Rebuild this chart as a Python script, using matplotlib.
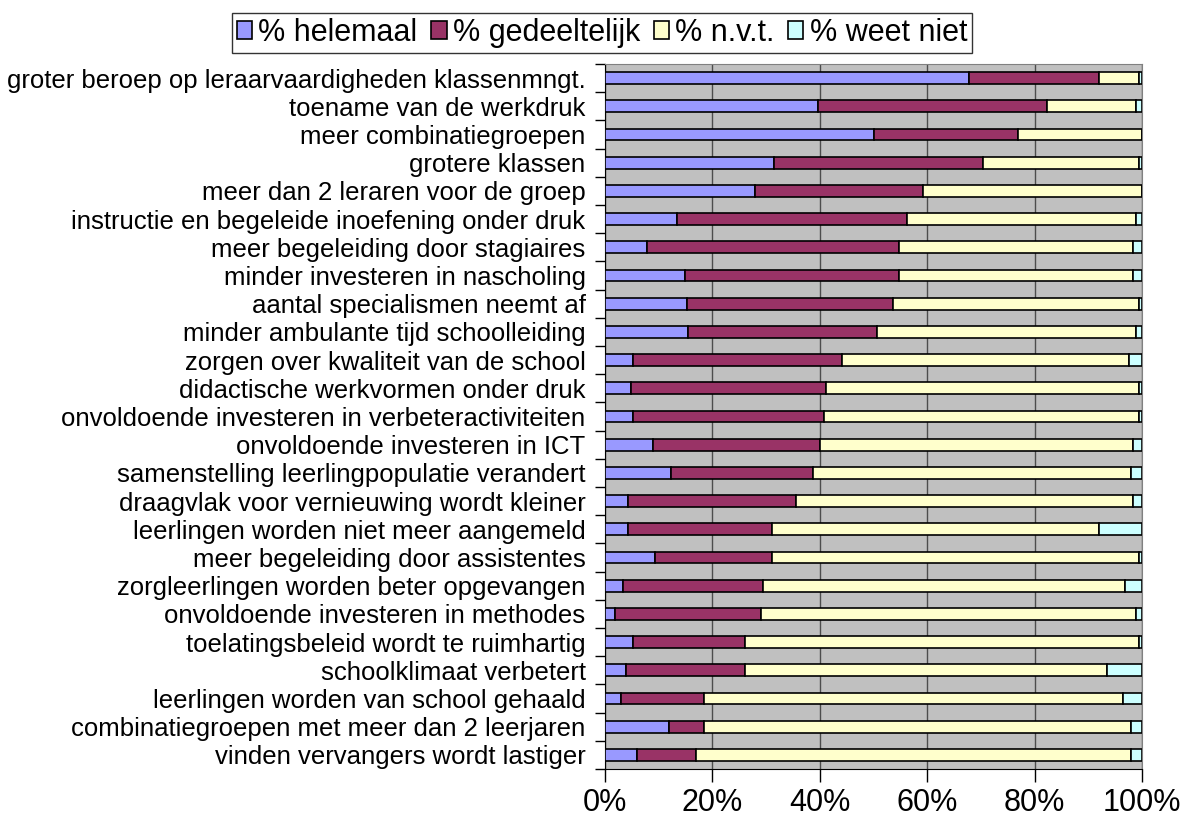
import matplotlib
matplotlib.use("Agg")
import matplotlib.pyplot as plt
from matplotlib.ticker import FixedLocator, PercentFormatter
import numpy as np

categories = [
    "groter beroep op leraarvaardigheden klassenmngt.",
    "toename van de werkdruk",
    "meer combinatiegroepen",
    "grotere klassen",
    "meer dan 2 leraren voor de groep",
    "instructie en begeleide inoefening onder druk",
    "meer begeleiding door stagiaires",
    "minder investeren in nascholing",
    "aantal specialismen neemt af",
    "minder ambulante tijd schoolleiding",
    "zorgen over kwaliteit van de school",
    "didactische werkvormen onder druk",
    "onvoldoende investeren in verbeteractiviteiten",
    "onvoldoende investeren in ICT",
    "samenstelling leerlingpopulatie verandert",
    "draagvlak voor vernieuwing wordt kleiner",
    "leerlingen worden niet meer aangemeld",
    "meer begeleiding door assistentes",
    "zorgleerlingen worden beter opgevangen",
    "onvoldoende investeren in methodes",
    "toelatingsbeleid wordt te ruimhartig",
    "schoolklimaat verbetert",
    "leerlingen worden van school gehaald",
    "combinatiegroepen met meer dan 2 leerjaren",
    "vinden vervangers wordt lastiger",
]

helemaal = [67.8, 39.7, 50.1, 31.5, 28.0, 13.5, 7.9, 14.9, 15.3, 15.4, 5.3, 4.8, 5.3,
            8.9, 12.3, 4.3, 4.3, 9.4, 3.3, 1.8, 5.3, 3.9, 2.9, 11.9, 5.9]
gedeeltelijk = [24.2, 42.7, 26.8, 38.8, 31.2, 42.7, 46.8, 39.8, 38.4, 35.3, 38.8, 36.3, 35.4,
                31.2, 26.4, 31.2, 26.8, 21.7, 26.2, 27.3, 20.7, 22.1, 15.6, 6.6, 11.1]
nvt = [7.5, 16.5, 23.1, 29.2, 40.8, 42.7, 43.7, 43.7, 45.8, 48.2, 53.4, 58.4, 58.8,
       58.3, 59.2, 62.9, 60.9, 68.4, 67.4, 69.8, 73.5, 67.4, 78.0, 79.4, 80.9]
weet_niet = [0.5, 1.1, 0.0, 0.5, 0.0, 1.1, 1.6, 1.6, 0.5, 1.1, 2.5, 0.5, 0.5,
             1.6, 2.1, 1.6, 8.0, 0.5, 3.1, 1.1, 0.5, 6.6, 3.5, 2.1, 2.1]

series = [
    ("% helemaal", helemaal, "#9999FF"),
    ("% gedeeltelijk", gedeeltelijk, "#993366"),
    ("% n.v.t.", nvt, "#FFFFCC"),
    ("% weet niet", weet_niet, "#CCFFFF"),
]

plt.rcParams["font.family"] = ["Liberation Sans", "DejaVu Sans"]

fig = plt.figure(figsize=(11.93, 8.18), dpi=100)
ax = fig.add_axes([605 / 1193, 1 - 769 / 818, 537 / 1193, 705 / 818])
ax.set_facecolor("#C0C0C0")

y = np.arange(len(categories))
left = np.zeros(len(categories))
for name, vals, color in series:
    vals = np.array(vals)
    ax.barh(y, vals, left=left, height=0.42, color=color, edgecolor="black",
            linewidth=1.2, label=name, zorder=3)
    left += vals

ax.set_xlim(0, 100)
ax.set_ylim(len(categories) - 0.5, -0.5)

ax.xaxis.set_major_locator(FixedLocator([0, 20, 40, 60, 80, 100]))
ax.xaxis.set_major_formatter(PercentFormatter(decimals=0))
ax.grid(axis="x", color="#4d4d4d", linewidth=1.0, zorder=1)
ax.tick_params(axis="x", labelsize=22, length=9, width=1, direction="out", pad=5)

# category labels in the middle, tick marks between the bars
ax.set_yticks(y)
ax.set_yticklabels(categories, fontsize=18.5)
ax.tick_params(axis="y", which="major", length=0, pad=14)
ax.set_yticks(np.arange(-0.5, len(categories), 1.0), minor=True)
ax.tick_params(axis="y", which="minor", length=7, width=1, direction="out")

for side in ["top", "right"]:
    ax.spines[side].set_color("#808080")
ax.spines["left"].set_color("black")
ax.spines["bottom"].set_color("black")

leg = fig.legend(loc="center", bbox_to_anchor=(602 / 1193, 1 - 33 / 818), ncol=4,
                 fontsize=22, frameon=True, fancybox=False, shadow=False,
                 handlelength=0.5, handleheight=0.5, handletextpad=0.2,
                 columnspacing=0.45, borderpad=0.15, borderaxespad=0)
leg.get_frame().set_edgecolor("black")
leg.get_frame().set_linewidth(1.0)

fig.savefig("out.png", dpi=100)
